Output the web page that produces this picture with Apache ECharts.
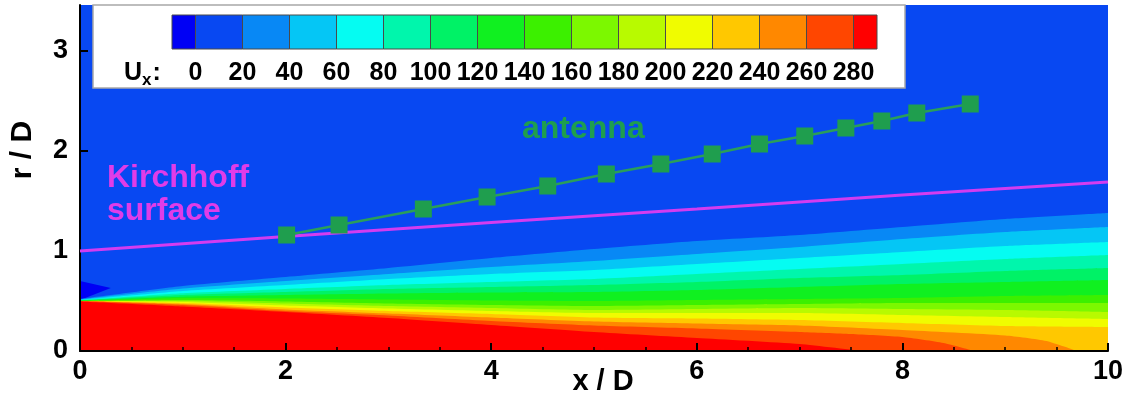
<!DOCTYPE html>
<html>
<head>
<meta charset="utf-8">
<script src="https://cdn.jsdelivr.net/npm/echarts@6/dist/echarts.min.js"></script>
<style>
  html, body { margin: 0; padding: 0; background: #ffffff; }
  #chart { width: 1132px; height: 397px; }
</style>
</head>
<body>
<div id="chart"></div>
<script>
const FONT = '"Liberation Sans", Arial, Helvetica, sans-serif';

// U_x contour levels; band 0 is below 0, band 15 is above 280
const levels = [0, 20, 40, 60, 80, 100, 120, 140, 160, 180, 200, 220, 240, 260, 280];
const bandColors = [
  '#0000f5', '#0848f2', '#0888f5', '#05c6f5', '#05fcf2', '#00f6ac',
  '#00f266', '#10f020', '#3cf000', '#7cf800', '#b8fa00', '#f0fc00',
  '#ffc800', '#ff8800', '#ff4600', '#ff0000'
];

// outer edge (r/D) of the region where U_x exceeds each level, along x/D
const edge20  = [[0,0.52],[1,0.65],[2,0.74],[3,0.83],[4,0.93],[5,1.02],[6,1.10],[7,1.16],[8,1.24],[9,1.32],[10,1.38]];
const edge40  = [[0,0.515],[1,0.625],[2,0.70],[3,0.77],[4,0.84],[5,0.90],[6,0.97],[7,1.04],[8,1.12],[9,1.19],[10,1.24]];
const edge60  = [[0,0.51],[1,0.60],[2,0.66],[3,0.72],[4,0.77],[5,0.81],[6,0.87],[7,0.93],[8,0.99],[9,1.05],[10,1.09]];
const edge80  = [[0,0.508],[1,0.577],[2,0.62],[3,0.66],[4,0.69],[5,0.72],[6,0.77],[7,0.82],[8,0.87],[9,0.92],[10,0.96]];
const edge100 = [[0,0.506],[1,0.56],[2,0.59],[3,0.62],[4,0.64],[5,0.66],[6,0.69],[7,0.73],[8,0.76],[9,0.80],[10,0.83]];
const edge120 = [[0,0.504],[1,0.543],[2,0.56],[3,0.575],[4,0.585],[5,0.59],[6,0.61],[7,0.64],[8,0.67],[9,0.69],[10,0.71]];
const edge140 = [[0,0.502],[1,0.527],[2,0.525],[3,0.515],[4,0.505],[5,0.50],[6,0.51],[7,0.52],[8,0.53],[9,0.55],[10,0.56]];
const edge160 = [[0,0.50],[1,0.51],[2,0.495],[3,0.475],[4,0.46],[5,0.45],[6,0.46],[7,0.47],[8,0.48],[9,0.48],[10,0.48]];
const edge180 = [[0,0.50],[1,0.50],[2,0.475],[3,0.45],[4,0.43],[5,0.41],[6,0.42],[7,0.43],[8,0.42],[9,0.41],[10,0.39]];
const edge200 = [[0,0.50],[1,0.49],[2,0.455],[3,0.425],[4,0.40],[5,0.38],[6,0.38],[7,0.38],[8,0.36],[9,0.34],[10,0.32]];
const edge220 = [[0,0.50],[1,0.48],[2,0.435],[3,0.40],[4,0.37],[5,0.335],[6,0.325],[7,0.31],[8,0.28],[9,0.25],[10,0.24]];
const edge240 = [[0,0.50],[1,0.47],[2,0.415],[3,0.375],[4,0.335],[5,0.295],[6,0.275],[7,0.255],[8,0.21],[9,0.155],[9.4,0.10],[9.7,0]];
const edge260 = [[0,0.50],[1,0.46],[2,0.40],[3,0.355],[4,0.30],[5,0.255],[6,0.225],[7,0.19],[7.5,0.17],[8,0.14],[8.4,0.08],[8.7,0]];
const edge280 = [[0,0.495],[1,0.445],[2,0.39],[3,0.33],[4,0.26],[5,0.19],[6,0.13],[7,0.07],[7.6,0]];
const contourEdges = [edge20, edge40, edge60, edge80, edge100, edge120, edge140,
                      edge160, edge180, edge200, edge220, edge240, edge260, edge280];

// small reverse-flow pocket at the nozzle lip
const lipPocket = [[0,0.70],[0.30,0.63],[0,0.51]];

// Kirchhoff surface
const kirchhoffX = [0, 2, 4, 6, 8, 10];
const kirchhoffR = [1.00, 1.145, 1.285, 1.42, 1.56, 1.69];

// microphone antenna positions
const antennaX = [2.01, 2.52, 3.34, 3.96, 4.55, 5.12, 5.65, 6.15, 6.61, 7.05, 7.45, 7.80, 8.14, 8.66];
const antennaR = [1.16, 1.26, 1.42, 1.54, 1.65, 1.77, 1.87, 1.97, 2.07, 2.15, 2.23, 2.30, 2.38, 2.47];

// axis ticks
const rTicks = [0, 1, 2, 3];

const zip = (a, b) => a.map((v, i) => [v, b[i]]);

const chart = echarts.init(document.getElementById('chart'), null, { renderer: 'canvas' });

const bandSeries = contourEdges.map((edge, k) => ({
  type: 'line',
  xAxisIndex: 0, yAxisIndex: 0,
  data: edge,
  symbol: 'none',
  smooth: 0.2,
  silent: true,
  lineStyle: { width: 0 },
  areaStyle: { color: bandColors[k + 2], opacity: 1 },
  z: 2
}));

const colorbarData = bandColors.map((c, i) => [
  i === 0 ? levels[0] - 10 : levels[i - 1],
  i === bandColors.length - 1 ? levels[levels.length - 1] + 10 : levels[i],
  i
]);

chart.setOption({
  animation: false,
  grid: [
    { left: 80, right: 24, top: 5, bottom: 46, show: true, outerBoundsMode: 'none',
      containLabel: false, backgroundColor: bandColors[1], borderWidth: 0 },
    { left: 172, width: 705, top: 15, height: 34, outerBoundsMode: 'none', containLabel: false }
  ],
  xAxis: [
    {
      type: 'value', gridIndex: 0, min: 0, max: 10, interval: 2,
      axisLine: { show: true, lineStyle: { color: '#000', width: 2 } },
      axisTick: { show: true, inside: true, length: 8, lineStyle: { color: '#000', width: 2 } },
      minorTick: { show: true, splitNumber: 4, length: 4, lineStyle: { color: '#000', width: 1.5 } },
      splitLine: { show: false },
      axisLabel: { color: '#000', fontFamily: FONT, fontWeight: 'bold', fontSize: 27, margin: 7 },
      name: 'x / D', nameLocation: 'middle', nameGap: 16, nameMoveOverlap: false,
      nameTextStyle: { color: '#000', fontFamily: FONT, fontWeight: 'bold', fontSize: 29,
                       verticalAlign: 'top', padding: [0, 0, 0, 18] },
      z: 5
    },
    {
      type: 'value', gridIndex: 1, min: levels[0] - 10, max: levels[levels.length - 1] + 10,
      axisLine: { show: false }, axisTick: { show: false }, splitLine: { show: false },
      axisLabel: { customValues: levels, color: '#000', fontFamily: FONT, fontWeight: 'bold',
                   fontSize: 25, margin: 12 },
      z: 120
    }
  ],
  yAxis: [
    {
      type: 'value', gridIndex: 0, min: 0, max: 3.46,
      axisLine: { show: true, lineStyle: { color: '#000', width: 2 } },
      axisTick: { show: true, inside: true, length: 8, customValues: rTicks, lineStyle: { color: '#000', width: 2 } },
      splitLine: { show: false },
      axisLabel: { customValues: rTicks, color: '#000', fontFamily: FONT, fontWeight: 'bold', fontSize: 27, margin: 12 },
      z: 5
    },
    { type: 'value', gridIndex: 1, min: 0, max: 1, show: false }
  ],
  graphic: [
    { type: 'rect', z: 100, shape: { x: 93, y: 5, width: 812, height: 83 },
      style: { fill: '#ffffff', stroke: '#a8a8a8', lineWidth: 1.5 } },
    { type: 'text', z: 120, x: 124, y: 73,
      style: { text: '{u|U}{s|x}{u|:}', textVerticalAlign: 'middle',
        rich: {
          u: { fontFamily: FONT, fontWeight: 'bold', fontSize: 25, fill: '#000', verticalAlign: 'middle' },
          s: { fontFamily: FONT, fontWeight: 'bold', fontSize: 17, fill: '#000', padding: [14, 1, 0, 0] }
        } } },
    { type: 'text', z: 20, x: 107, y: 162,
      style: { text: 'Kirchhoff\nsurface', fill: '#e03ce8', font: 'bold 32px ' + FONT, lineHeight: 33 } },
    { type: 'text', z: 20, x: 522, y: 113,
      style: { text: 'antenna', fill: '#1f9e4e', font: 'bold 32px ' + FONT } },
    { type: 'text', z: 20, x: 23, y: 150, rotation: Math.PI / 2,
      style: { text: 'r / D', fill: '#000', font: 'bold 30px ' + FONT, textAlign: 'center', textVerticalAlign: 'middle' } }
  ],
  series: [
    {
      type: 'custom', xAxisIndex: 0, yAxisIndex: 0, silent: true, z: 1,
      data: [[lipPocket[0][0], lipPocket[0][1]]],
      renderItem: (params, api) => ({
        type: 'polygon',
        shape: { points: lipPocket.map(p => api.coord(p)) },
        style: { fill: bandColors[0] }
      })
    },
    ...bandSeries,
    {
      type: 'line', xAxisIndex: 0, yAxisIndex: 0,
      data: zip(kirchhoffX, kirchhoffR),
      symbol: 'none', silent: true,
      lineStyle: { color: '#d23cf0', width: 3 },
      z: 10
    },
    {
      type: 'line', xAxisIndex: 0, yAxisIndex: 0,
      data: zip(antennaX, antennaR),
      symbol: 'rect', symbolSize: 17, silent: true,
      itemStyle: { color: '#1f9e4e' },
      lineStyle: { color: '#2a9e5a', width: 2.5 },
      z: 11
    },
    {
      type: 'custom', xAxisIndex: 1, yAxisIndex: 1, silent: true, z: 120,
      data: colorbarData,
      renderItem: (params, api) => {
        const p0 = api.coord([api.value(0), 1]);
        const p1 = api.coord([api.value(1), 0]);
        return {
          type: 'rect', z2: 1,
          shape: { x: p0[0], y: p0[1], width: p1[0] - p0[0], height: p1[1] - p0[1] },
          style: { fill: bandColors[api.value(2)], stroke: '#4a4a4a', lineWidth: 1 }
        };
      }
    }
  ]
});
</script>
</body>
</html>
